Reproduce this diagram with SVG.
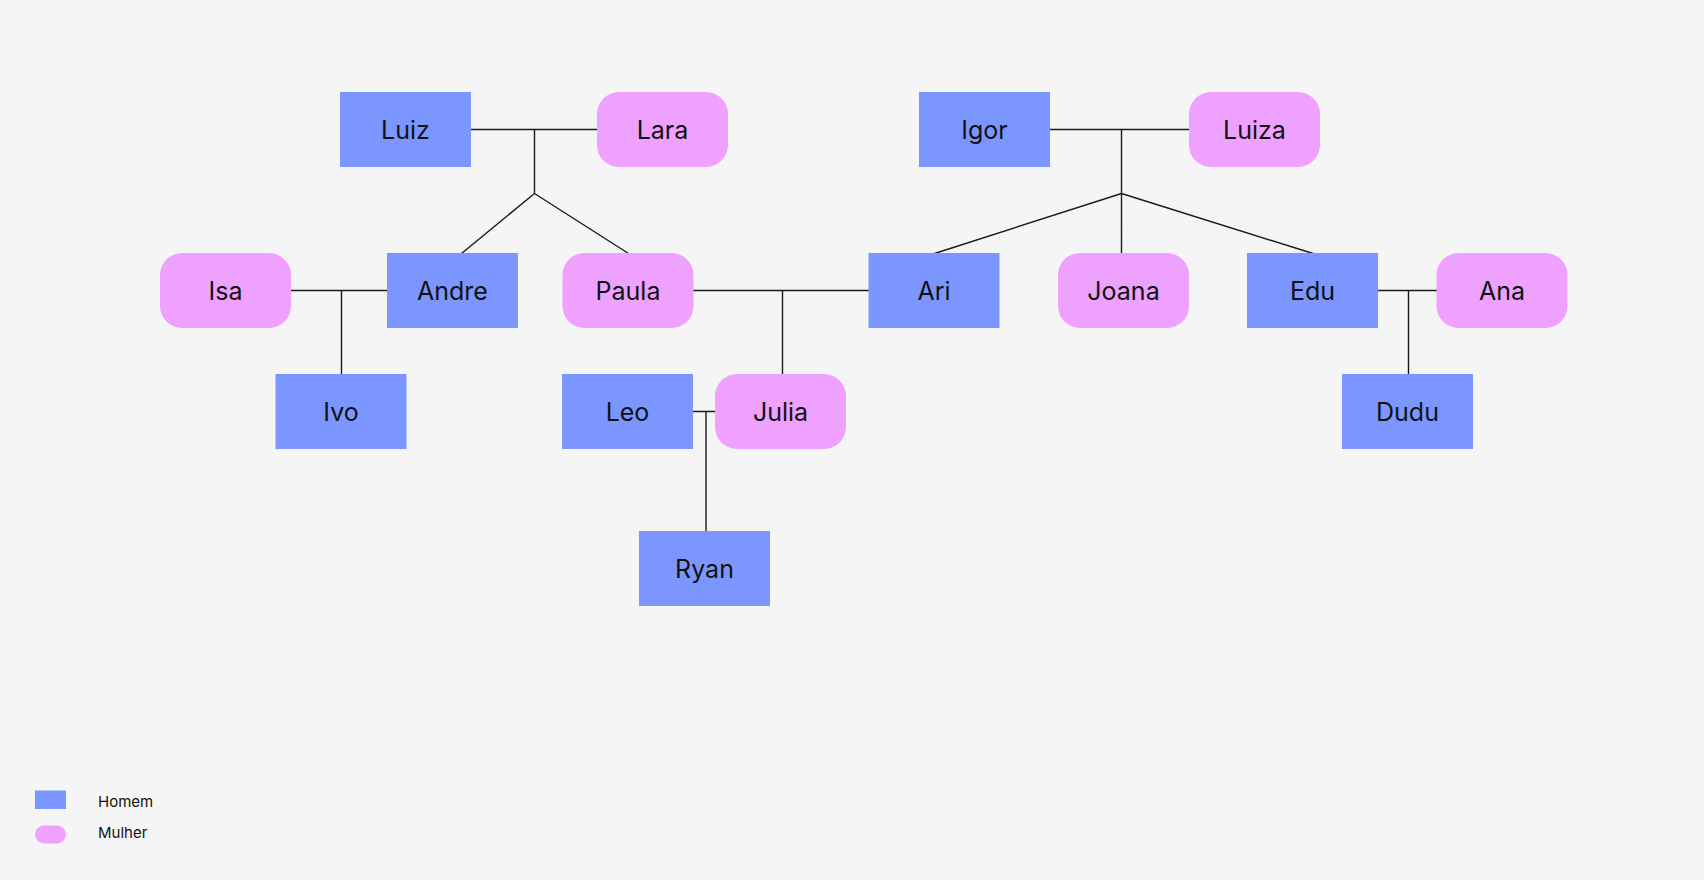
<svg xmlns="http://www.w3.org/2000/svg" width="1704" height="880" viewBox="0 0 1704 880">
<style>
.m{fill:#7B97FF}
.f{fill:#EEA1FE}
.t{font-family:Inter,"Noto Sans","Liberation Sans",sans-serif;font-size:25px;fill:#111;text-anchor:middle}
.l{font-family:Inter,"Noto Sans","Liberation Sans",sans-serif;font-size:15px;fill:#111}
.c{stroke:#1a1a1a;stroke-width:1.4;fill:none}
</style>
<rect width="1704" height="880" fill="#F5F5F5"/>
<g id="connectors" class="c">
<path d="M471,129.5H597M534.5,129.5V193.5M534.5,193.5L461.5,253.5M534.5,193.5L628.5,253.5"/>
<path d="M1050,129.5H1189M1121.5,129.5V193.5M1121.5,193.5L934.5,253.5M1121.5,193.5V253.5M1121.5,193.5L1313,253.5"/>
<path d="M290.5,290.5H387M341.5,290.5V374"/>
<path d="M692.5,290.5H869M782.5,290.5V374"/>
<path d="M1378,290.5H1437M1408.5,290.5V374"/>
<path d="M693,411.5H715M706,411.5V531"/>
</g>
<g id="luiz"><rect class="m" x="340" y="92" width="131" height="75"/><text class="t" x="405.5" y="138.5">Luiz</text></g>
<g id="lara"><rect class="f" x="597" y="92" width="131" height="75" rx="22"/><text class="t" x="662.5" y="138.5">Lara</text></g>
<g id="igor"><rect class="m" x="919" y="92" width="131" height="75"/><text class="t" x="984.5" y="138.5">Igor</text></g>
<g id="luiza"><rect class="f" x="1189" y="92" width="131" height="75" rx="22"/><text class="t" x="1254.5" y="138.5">Luiza</text></g>
<g id="isa"><rect class="f" x="160" y="253" width="131" height="75" rx="22"/><text class="t" x="225.5" y="299.5">Isa</text></g>
<g id="andre"><rect class="m" x="387" y="253" width="131" height="75"/><text class="t" x="452.5" y="299.5">Andre</text></g>
<g id="paula"><rect class="f" x="562.5" y="253" width="131" height="75" rx="22"/><text class="t" x="628" y="299.5">Paula</text></g>
<g id="ari"><rect class="m" x="868.5" y="253" width="131" height="75"/><text class="t" x="934" y="299.5">Ari</text></g>
<g id="joana"><rect class="f" x="1058" y="253" width="131" height="75" rx="22"/><text class="t" x="1123.5" y="299.5">Joana</text></g>
<g id="edu"><rect class="m" x="1247" y="253" width="131" height="75"/><text class="t" x="1312.5" y="299.5">Edu</text></g>
<g id="ana"><rect class="f" x="1436.5" y="253" width="131" height="75" rx="22"/><text class="t" x="1502" y="299.5">Ana</text></g>
<g id="ivo"><rect class="m" x="275.5" y="374" width="131" height="75"/><text class="t" x="341" y="420.5">Ivo</text></g>
<g id="leo"><rect class="m" x="562" y="374" width="131" height="75"/><text class="t" x="627.5" y="420.5">Leo</text></g>
<g id="julia"><rect class="f" x="715" y="374" width="131" height="75" rx="22"/><text class="t" x="780.5" y="420.5">Julia</text></g>
<g id="dudu"><rect class="m" x="1342" y="374" width="131" height="75"/><text class="t" x="1407.5" y="420.5">Dudu</text></g>
<g id="ryan"><rect class="m" x="639" y="531" width="131" height="75"/><text class="t" x="704.5" y="577.5">Ryan</text></g>
<g id="legend">
<rect class="m" x="35" y="790.5" width="31" height="18.5"/>
<text class="l" x="98" y="806.5">Homem</text>
<rect class="f" x="35" y="825.5" width="31" height="18" rx="9"/>
<text class="l" x="98" y="837.5">Mulher</text>
</g>
</svg>
